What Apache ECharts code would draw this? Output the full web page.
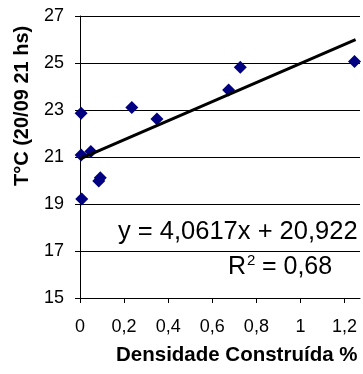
<!DOCTYPE html>
<html><head><meta charset="utf-8">
<script src="https://cdn.jsdelivr.net/npm/echarts@6/dist/echarts.min.js"></script>
<style>html,body{margin:0;padding:0;background:#fff}#c{width:363px;height:374px}</style>
</head><body><div id="c"></div>
<script>
const densidade = [0.005, 0.235, 0.349, 0.674, 0.727, 1.245, 0.005, 0.049, 0.085, 0.092, 0.008];
const temperatura = [22.86, 23.11, 22.62, 23.85, 24.82, 25.06, 21.09, 21.23, 19.98, 20.12, 19.21];
const trendX = [0, 1.25];
const slope = 4.0617, intercept = 20.922;
const xTicks = [0, 0.2, 0.4, 0.6, 0.8, 1, 1.2];
const yTicks = [15, 17, 19, 21, 23, 25, 27];
const xTitle = 'Densidade Construída %';
const yTitle = 'T°C (20/09 21 hs)';
const eqText = 'y = 4,0617x + 20,922';
const r2Value = '0,68';

const pts = densidade.map((x, i) => [x, temperatura[i]]);
const trend = trendX.map(x => [x, intercept + slope * x]);
const font = 'Arial, "Liberation Sans", sans-serif';

const chart = echarts.init(document.getElementById('c'));
chart.setOption({
  animation: false,
  backgroundColor: '#fff',
  grid: { left: 80, top: 16, width: 280, height: 282, containLabel: false },
  xAxis: {
    type: 'value', min: 0, max: 1.27,
    axisLine: { show: true, lineStyle: { color: '#000', width: 1 } },
    axisTick: { show: true, length: 5, customValues: xTicks, lineStyle: { color: '#000' } },
    splitLine: { show: false },
    axisLabel: { color: '#000', fontSize: 18, fontFamily: font, margin: 20, customValues: xTicks,
      formatter: v => String(Math.round(v * 10) / 10).replace('.', ',') }
  },
  yAxis: {
    type: 'value', min: yTicks[0], max: yTicks[yTicks.length - 1], interval: 2,
    axisLine: { show: true, lineStyle: { color: '#000', width: 1 } },
    axisTick: { show: true, length: 5, lineStyle: { color: '#000' } },
    splitLine: { show: true, lineStyle: { color: '#000', width: 1 } },
    axisLabel: { color: '#000', fontSize: 18, fontFamily: font, margin: 16 }
  },
  series: [
    { type: 'scatter', data: pts, symbol: 'diamond', symbolSize: 13,
      itemStyle: { color: '#000080', opacity: 1 }, z: 2 },
    { type: 'line', data: trend, showSymbol: false, symbol: 'none',
      lineStyle: { color: '#000', width: 3 }, z: 3, silent: true }
  ],
  graphic: [
    { type: 'text', left: 118, top: 219, style: { text: eqText, fill: '#000', font: '25.5px ' + font } },
    { type: 'text', left: 228, top: 255, style: { text: 'R', fill: '#000', font: '25px ' + font } },
    { type: 'text', left: 247, top: 253, style: { text: '2', fill: '#000', font: '15px ' + font } },
    { type: 'text', left: 255, top: 255, style: { text: ' = ' + r2Value, fill: '#000', font: '25px ' + font } },
    { type: 'text', left: 116, top: 345, style: { text: xTitle, fill: '#000', font: 'bold 20.5px ' + font } },
    { type: 'text', x: 12, y: 186, rotation: Math.PI / 2, style: { text: yTitle, fill: '#000', font: 'bold 20px ' + font } }
  ]
});
</script></body></html>
